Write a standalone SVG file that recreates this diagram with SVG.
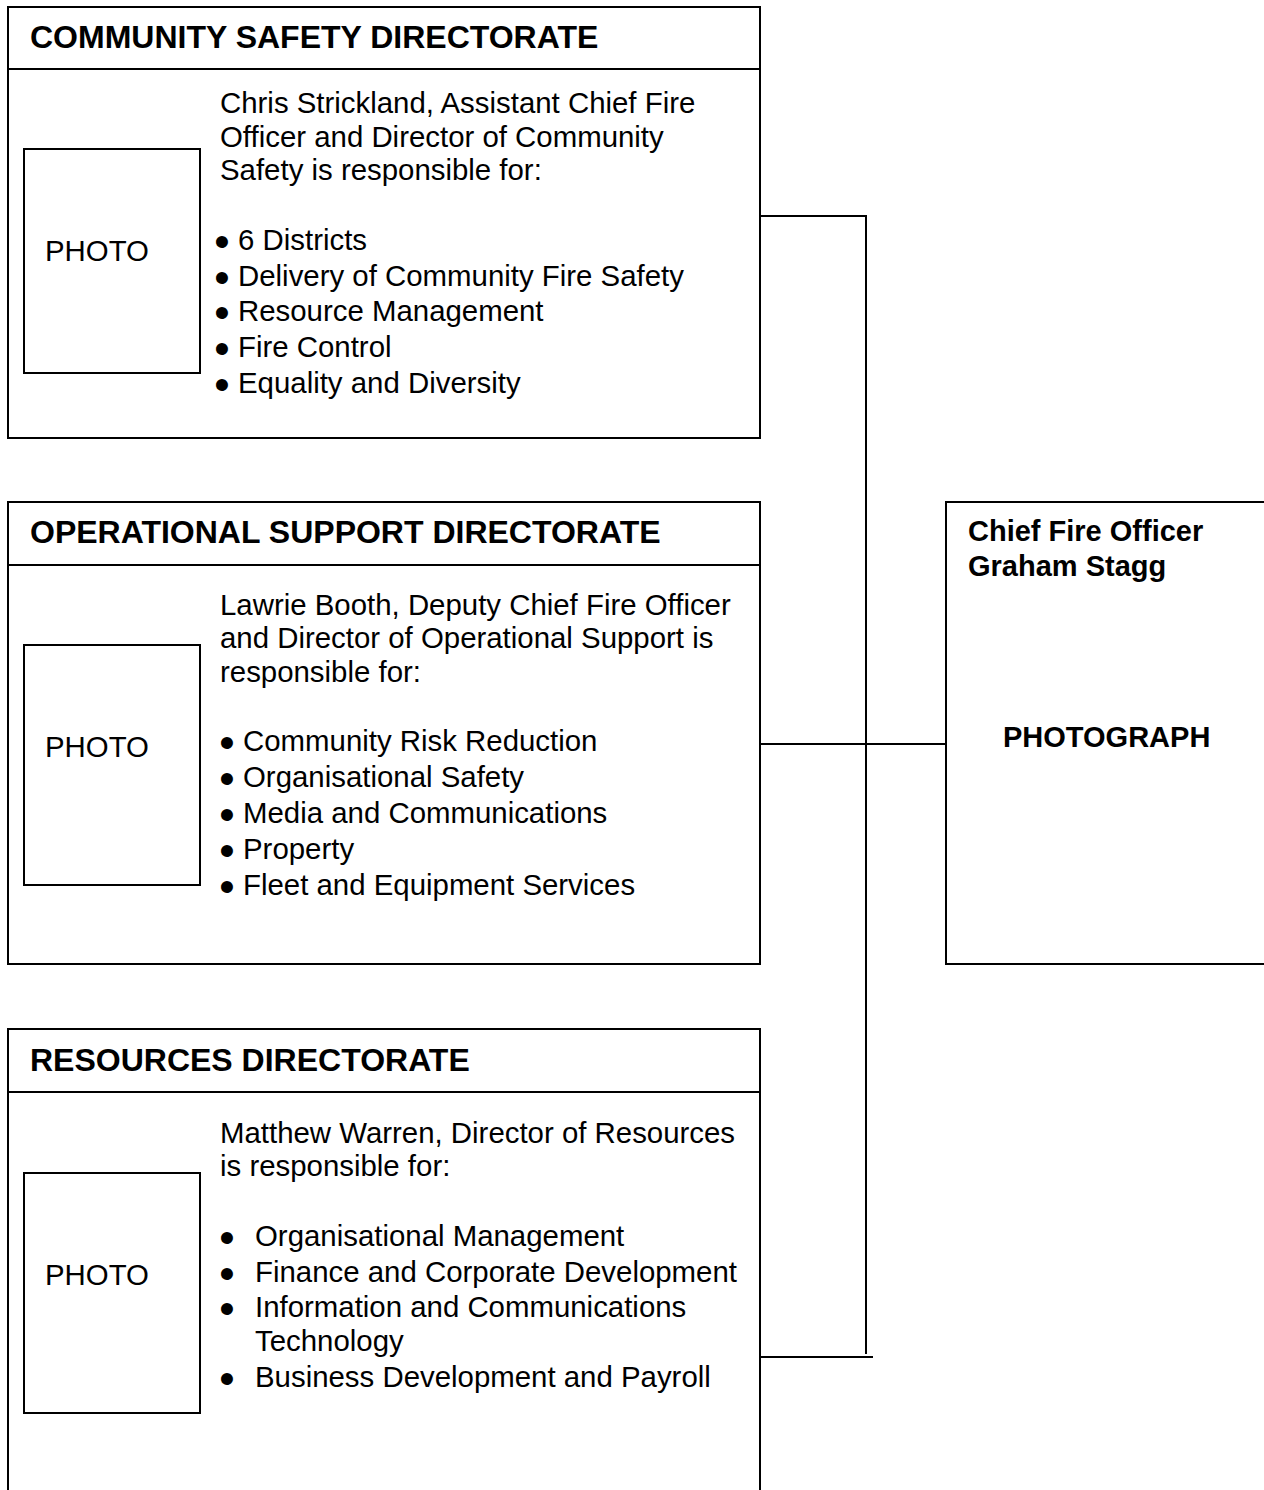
<svg xmlns="http://www.w3.org/2000/svg" width="1264" height="1490" viewBox="0 0 1264 1490">
<style>
.box{fill:#fff;stroke:#000;stroke-width:2}
.ln{fill:none;stroke:#000;stroke-width:2}
.h{font-family:"Liberation Sans",Arial,sans-serif;font-weight:bold;font-size:32px;fill:#000}
.t{font-family:"Liberation Sans",Arial,sans-serif;font-size:29.4px;fill:#000}
.b{font-family:"Liberation Sans",Arial,sans-serif;font-weight:bold;font-size:29px;fill:#000}
.bu{font-family:"Liberation Sans",Arial,sans-serif;font-size:44px;fill:#000;text-anchor:middle;dominant-baseline:central}
</style>
<rect width="1264" height="1490" fill="#fff"/>
<g id="connectors">
<polyline class="ln" points="760,216 866,216 866,1354"/>
<line class="ln" x1="760" y1="744" x2="946" y2="744"/>
<line class="ln" x1="760" y1="1357" x2="873" y2="1357"/>
</g>
<g id="community-safety">
<rect class="box" x="8" y="7" width="752" height="431"/>
<line class="ln" x1="8" y1="69" x2="760" y2="69"/>
<text class="h" x="30" y="47.5">COMMUNITY SAFETY DIRECTORATE</text>
<rect class="box" x="24" y="149" width="176" height="224"/>
<text class="t" x="45" y="261">PHOTO</text>
<text class="t" x="220" y="113">Chris Strickland, Assistant Chief Fire</text>
<text class="t" x="220" y="147">Officer and Director of Community</text>
<text class="t" x="220" y="180">Safety is responsible for:</text>
<text class="bu" x="222" y="241">•</text><text class="t" x="238" y="250">6 Districts</text>
<text class="bu" x="222" y="277">•</text><text class="t" x="238" y="286">Delivery of Community Fire Safety</text>
<text class="bu" x="222" y="312">•</text><text class="t" x="238" y="321">Resource Management</text>
<text class="bu" x="222" y="348">•</text><text class="t" x="238" y="357">Fire Control</text>
<text class="bu" x="222" y="384">•</text><text class="t" x="238" y="393">Equality and Diversity</text>
</g>
<g id="operational-support">
<rect class="box" x="8" y="502" width="752" height="462"/>
<line class="ln" x1="8" y1="565" x2="760" y2="565"/>
<text class="h" x="30" y="542.5">OPERATIONAL SUPPORT DIRECTORATE</text>
<rect class="box" x="24" y="645" width="176" height="240"/>
<text class="t" x="45" y="757">PHOTO</text>
<text class="t" x="220" y="615">Lawrie Booth, Deputy Chief Fire Officer</text>
<text class="t" x="220" y="648">and Director of Operational Support is</text>
<text class="t" x="220" y="682">responsible for:</text>
<text class="bu" x="227" y="742">•</text><text class="t" x="243" y="751">Community Risk Reduction</text>
<text class="bu" x="227" y="778">•</text><text class="t" x="243" y="787">Organisational Safety</text>
<text class="bu" x="227" y="814">•</text><text class="t" x="243" y="823">Media and Communications</text>
<text class="bu" x="227" y="850">•</text><text class="t" x="243" y="859">Property</text>
<text class="bu" x="227" y="886">•</text><text class="t" x="243" y="895">Fleet and Equipment Services</text>
</g>
<g id="resources">
<path class="ln" d="M8,1495 V1029 H760 V1495"/>
<line class="ln" x1="8" y1="1092" x2="760" y2="1092"/>
<text class="h" x="30" y="1070.5">RESOURCES DIRECTORATE</text>
<rect class="box" x="24" y="1173" width="176" height="240"/>
<text class="t" x="45" y="1285">PHOTO</text>
<text class="t" x="220" y="1143">Matthew Warren, Director of Resources</text>
<text class="t" x="220" y="1176">is responsible for:</text>
<text class="bu" x="227" y="1237.5">•</text><text class="t" x="255" y="1246">Organisational Management</text>
<text class="bu" x="227" y="1273.5">•</text><text class="t" x="255" y="1282">Finance and Corporate Development</text>
<text class="bu" x="227" y="1308.5">•</text><text class="t" x="255" y="1317">Information and Communications</text>
<text class="t" x="255" y="1351">Technology</text>
<text class="bu" x="227" y="1378.5">•</text><text class="t" x="255" y="1387">Business Development and Payroll</text>
</g>
<g id="chief-fire-officer">
<path class="box" d="M1270,502 H946 V964 H1270"/>
<text class="b" x="968" y="541">Chief Fire Officer</text>
<text class="b" x="968" y="576">Graham Stagg</text>
<text class="b" x="1003" y="747">PHOTOGRAPH</text>
</g>
</svg>
